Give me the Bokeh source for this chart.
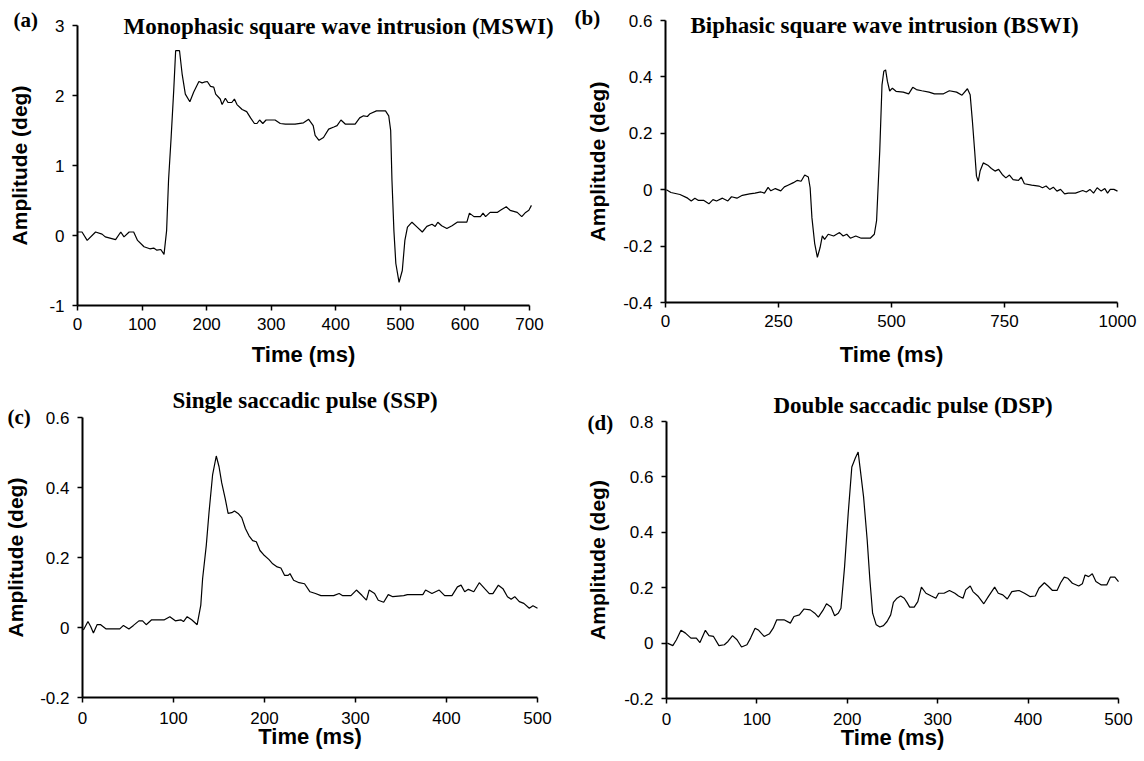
from bokeh.plotting import figure
from bokeh.layouts import column, row
from bokeh.models import FixedTicker, CustomJSTickFormatter, Label, Range1d
from bokeh.embed import file_html
from bokeh.resources import INLINE

# ---------------- data ----------------
mswi_t = [0, 7, 15, 28, 38, 43, 59, 67, 72, 80, 87, 93, 103, 112, 118, 123, 129, 134, 138, 141,
          145, 149, 152, 158, 162, 167, 174, 180, 188, 193, 196, 201, 206, 211, 214, 221, 224, 229,
          233, 239, 243, 247, 255, 262, 268, 274, 278, 282, 287, 292, 306, 314, 322, 337, 350, 358,
          365, 368, 374, 381, 389, 397, 402, 408, 415, 430, 437, 443, 449, 453, 463, 477, 482, 485,
          487, 490, 493, 498, 503, 507, 511, 518, 526, 534, 541, 549, 554, 558, 564, 572, 580, 588,
          603, 607, 614, 624, 628, 632, 639, 650, 655, 664, 670, 681, 688, 694, 699, 703]
mswi_amp = [0.05, 0.05, -0.07, 0.05, 0.02, -0.02, -0.06, 0.05, -0.02, 0.05, 0.05, -0.07, -0.16,
            -0.19, -0.18, -0.21, -0.20, -0.27, 0.07, 0.79, 1.40, 2.07, 2.64, 2.64, 2.31, 2.02, 1.91,
            2.05, 2.20, 2.18, 2.19, 2.20, 2.13, 2.12, 2.02, 1.95, 1.87, 1.96, 1.90, 1.90, 1.95, 1.87,
            1.80, 1.77, 1.68, 1.60, 1.60, 1.65, 1.60, 1.65, 1.65, 1.60, 1.59, 1.59, 1.61, 1.66,
            1.57, 1.43, 1.36, 1.40, 1.52, 1.55, 1.57, 1.65, 1.59, 1.59, 1.68, 1.71, 1.70, 1.74, 1.78,
            1.78, 1.71, 1.50, 0.79, 0.07, -0.40, -0.67, -0.50, -0.07, 0.12, 0.19, 0.12, 0.05, 0.13,
            0.16, 0.13, 0.19, 0.14, 0.10, 0.14, 0.19, 0.19, 0.32, 0.27, 0.27, 0.32, 0.27, 0.33, 0.33,
            0.36, 0.41, 0.36, 0.33, 0.27, 0.33, 0.36, 0.43]

bswi_t = [2, 12, 32, 49, 57, 65, 73, 85, 96, 105, 113, 126, 138, 146, 158, 170, 186, 198, 211, 219,
          227, 233, 243, 255, 263, 271, 283, 291, 300, 308, 316, 320, 324, 330, 336, 342, 347, 352,
          360, 372, 385, 393, 401, 409, 421, 433, 453, 462, 467, 474, 479, 483, 487, 491, 496, 502,
          510, 526, 538, 547, 555, 567, 583, 595, 615, 628, 644, 656, 668, 674, 679, 684, 688, 692,
          696, 703, 713, 721, 729, 737, 745, 753, 761, 769, 781, 787, 794, 810, 826, 834, 842, 850,
          858, 866, 874, 883, 891, 907, 923, 931, 939, 947, 955, 964, 972, 978, 984, 992, 1000]
bswi_amp = [0.0, -0.01, -0.017, -0.03, -0.04, -0.03, -0.038, -0.038, -0.05, -0.035, -0.04, -0.03,
            -0.04, -0.025, -0.03, -0.02, -0.015, -0.012, -0.008, -0.012, 0.008, -0.004, 0.004,
            -0.004, 0.01, 0.016, 0.025, 0.033, 0.03, 0.052, 0.045, 0.007, -0.10, -0.19, -0.24,
            -0.205, -0.164, -0.176, -0.158, -0.164, -0.152, -0.164, -0.158, -0.172, -0.164, -0.172,
            -0.172, -0.158, -0.11, 0.137, 0.372, 0.42, 0.425, 0.384, 0.35, 0.36, 0.349, 0.346, 0.34,
            0.363, 0.355, 0.351, 0.346, 0.34, 0.34, 0.351, 0.346, 0.335, 0.358, 0.337, 0.243, 0.137,
            0.048, 0.03, 0.066, 0.095, 0.087, 0.075, 0.066, 0.072, 0.054, 0.042, 0.052, 0.036,
            0.033, 0.045, 0.021, 0.016, 0.013, 0.007, 0.013, 0.001, 0.009, -0.005, 0.001, -0.015,
            -0.012, -0.012, -0.003, -0.008, 0.001, -0.012, 0.007, -0.005, 0.004, -0.012, 0.001,
            0.001, -0.005]

ssp_t = [1, 6, 9, 12, 16, 20, 26, 41, 45, 51, 56, 62, 66, 70, 76, 90, 96, 102, 108, 111, 115, 120,
         126, 130, 132, 136, 139, 143, 147, 150, 153, 157, 160, 164, 167, 171, 175, 179, 183, 187,
         191, 195, 199, 205, 209, 214, 218, 222, 226, 228, 232, 238, 244, 250, 256, 262, 276, 282,
         286, 295, 301, 307, 312, 315, 321, 325, 331, 336, 341, 353, 357, 374, 377, 384, 392, 398,
         406, 412, 416, 420, 424, 430, 436, 442, 447, 451, 457, 462, 467, 471, 475, 480, 485, 491,
         495, 500]
ssp_amp = [-0.007, 0.017, 0.003, -0.016, 0.008, 0.008, -0.004, -0.004, 0.006, -0.004, 0.006, 0.019,
           0.019, 0.008, 0.022, 0.022, 0.031, 0.019, 0.022, 0.017, 0.031, 0.022, 0.008, 0.064, 0.14,
           0.234, 0.328, 0.437, 0.49, 0.46, 0.413, 0.366, 0.326, 0.328, 0.333, 0.326, 0.314, 0.283,
           0.262, 0.248, 0.245, 0.22, 0.208, 0.194, 0.182, 0.173, 0.17, 0.149, 0.149, 0.154, 0.135,
           0.128, 0.125, 0.102, 0.097, 0.091, 0.091, 0.097, 0.091, 0.091, 0.107, 0.092, 0.078,
           0.107, 0.097, 0.078, 0.072, 0.094, 0.088, 0.091, 0.094, 0.094, 0.107, 0.097, 0.107,
           0.091, 0.091, 0.116, 0.121, 0.102, 0.109, 0.102, 0.128, 0.111, 0.097, 0.097, 0.121,
           0.111, 0.088, 0.081, 0.088, 0.074, 0.069, 0.055, 0.062, 0.055]

dsp_t = [1, 7, 11, 16, 21, 27, 33, 37, 43, 47, 52, 58, 64, 68, 73, 78, 83, 89, 93, 98, 102, 108,
         114, 118, 122, 130, 137, 141, 147, 152, 159, 164, 168, 173, 177, 182, 186, 190, 193, 197,
         201, 205, 209, 212, 214, 218, 222, 225, 228, 232, 236, 240, 244, 248, 251, 255, 259, 263,
         266, 269, 274, 278, 282, 287, 293, 298, 301, 307, 313, 319, 323, 328, 331, 336, 339, 345,
         351, 356, 363, 367, 372, 377, 382, 390, 396, 402, 408, 412, 418, 422, 427, 432, 436, 440,
         444, 449, 456, 460, 463, 467, 471, 475, 481, 487, 491, 496, 500]
dsp_amp = [0.0, -0.009, 0.012, 0.046, 0.036, 0.018, 0.018, 0.002, 0.046, 0.027, 0.024, -0.009,
           -0.006, 0.006, 0.027, 0.012, -0.014, -0.006, 0.018, 0.054, 0.046, 0.024, 0.034, 0.054,
           0.084, 0.084, 0.072, 0.096, 0.102, 0.123, 0.12, 0.108, 0.094, 0.118, 0.142, 0.13, 0.099,
           0.108, 0.126, 0.276, 0.468, 0.636, 0.669, 0.69, 0.636, 0.528, 0.372, 0.228, 0.108,
           0.066, 0.058, 0.063, 0.078, 0.102, 0.147, 0.162, 0.17, 0.162, 0.147, 0.13, 0.13, 0.15,
           0.202, 0.18, 0.17, 0.162, 0.18, 0.18, 0.19, 0.18, 0.17, 0.162, 0.192, 0.206, 0.186,
           0.168, 0.142, 0.168, 0.202, 0.18, 0.174, 0.159, 0.186, 0.19, 0.18, 0.168, 0.17, 0.198,
           0.218, 0.206, 0.19, 0.19, 0.218, 0.238, 0.234, 0.216, 0.206, 0.214, 0.246, 0.24, 0.25,
           0.222, 0.21, 0.21, 0.238, 0.238, 0.222]

# axis ticks
mswi_xticks = [0, 100, 200, 300, 400, 500, 600, 700]
mswi_yticks = [-1, 0, 1, 2, 3]
bswi_xticks = [0, 250, 500, 750, 1000]
bswi_yticks = [-0.4, -0.2, 0, 0.2, 0.4, 0.6]
ssp_xticks = [0, 100, 200, 300, 400, 500]
ssp_yticks = [-0.2, 0, 0.2, 0.4, 0.6]
dsp_xticks = [0, 100, 200, 300, 400, 500]
dsp_yticks = [-0.2, 0, 0.2, 0.4, 0.6, 0.8]

titles = ["Monophasic square wave intrusion (MSWI)",
          "Biphasic square wave intrusion (BSWI)",
          "Single saccadic pulse (SSP)",
          "Double saccadic pulse (DSP)"]
tags = ["(a)", "(b)", "(c)", "(d)"]

SANS = "Liberation Sans"
SERIF = "Liberation Serif"

fmt = CustomJSTickFormatter(code="return String(Math.round(tick*10)/10)")


def span_range(v0, v1, p0, p1, size):
    """data v0 at pixel p0 and v1 at pixel p1 (pixels from start of a canvas of length size)"""
    scale = (p1 - p0) / (v1 - v0)
    return Range1d(v0 - p0 / scale, v1 + (size - p1) / scale)


def panel(t, amp, xticks, yticks, fig, frame, title, tag, title_pos, tag_pos,
          xtl_std, xl_std, yl_std):
    fx, fy, W, H = fig                       # figure box on the page
    left, right, top, bottom = frame         # axis box on the page
    xr = span_range(xticks[0], xticks[-1], left - fx, right - fx, W)
    yr = span_range(yticks[0], yticks[-1], (fy + H) - bottom, (fy + H) - top, H)
    p = figure(width=W, height=H, x_range=xr, y_range=yr,
               output_backend="svg", toolbar_location=None,
               min_border_left=0, min_border_right=0,
               min_border_top=0, min_border_bottom=0)
    p.outline_line_color = None
    p.grid.visible = False
    p.background_fill_color = "white"
    p.border_fill_color = "white"
    p.line(t, amp, line_color="black", line_width=1.2)

    for ax, ticks in ((p.xaxis[0], xticks), (p.yaxis[0], yticks)):
        ax.ticker = FixedTicker(ticks=ticks)
        ax.formatter = fmt
        ax.bounds = (ticks[0], ticks[-1])
        ax.minor_tick_line_color = None
        ax.major_tick_in = 0
        ax.major_tick_out = 5
        ax.axis_line_width = 2
        ax.major_tick_line_width = 1.5
        ax.axis_line_color = "black"
        ax.major_tick_line_color = "black"
        ax.major_label_text_font = SANS
        ax.major_label_text_font_size = "17px"
        ax.major_label_text_color = "black"
        ax.axis_label_text_font = SANS
        ax.axis_label_text_font_style = "bold"
        ax.axis_label_text_color = "black"
    p.xaxis.fixed_location = yticks[0]
    p.yaxis.fixed_location = xticks[0]
    p.xaxis.axis_label = "Time (ms)"
    p.yaxis.axis_label = "Amplitude (deg)"
    p.xaxis.axis_label_text_font_size = "22px"
    p.yaxis.axis_label_text_font_size = "21px"
    p.xaxis.major_label_standoff = xtl_std
    p.yaxis.major_label_standoff = 8
    p.xaxis.axis_label_standoff = xl_std
    p.yaxis.axis_label_standoff = yl_std

    p.add_layout(Label(x=title_pos[0] - fx, y=(fy + H) - title_pos[1],
                       x_units="screen", y_units="screen",
                       text=title, text_font=SERIF, text_font_style="bold",
                       text_font_size="23px", text_baseline="middle", text_align="left",
                       text_color="black"))
    p.add_layout(Label(x=tag_pos[0] - fx, y=(fy + H) - tag_pos[1],
                       x_units="screen", y_units="screen",
                       text=tag, text_font=SERIF, text_font_style="bold",
                       text_font_size="21px", text_baseline="middle", text_align="left",
                       text_color="black"))
    return p


pa = panel(mswi_t, mswi_amp, mswi_xticks, mswi_yticks,
           (0, 0, 570, 380), (77, 529, 25, 305),
           titles[0], tags[0], (123, 26), (13, 19.5), 7, 9, 15)
pb = panel(bswi_t, bswi_amp, bswi_xticks, bswi_yticks,
           (570, 0, 570, 380), (665, 1117, 20, 302),
           titles[1], tags[1], (690, 25), (574, 17.5), 7, 12, 11)
pc = panel(ssp_t, ssp_amp, ssp_xticks, ssp_yticks,
           (0, 380, 570, 376), (82, 537, 417, 697),
           titles[2], tags[2], (172, 400), (7, 416), 9, -3, 10)
pd = panel(dsp_t, dsp_amp, dsp_xticks, dsp_yticks,
           (570, 380, 570, 376), (666, 1118, 421, 698),
           titles[3], tags[3], (773, 405), (587, 422), 9, -3, 12)

layout = column(row(pa, pb), row(pc, pd))
open("out.html", "w").write(file_html(layout, INLINE))
